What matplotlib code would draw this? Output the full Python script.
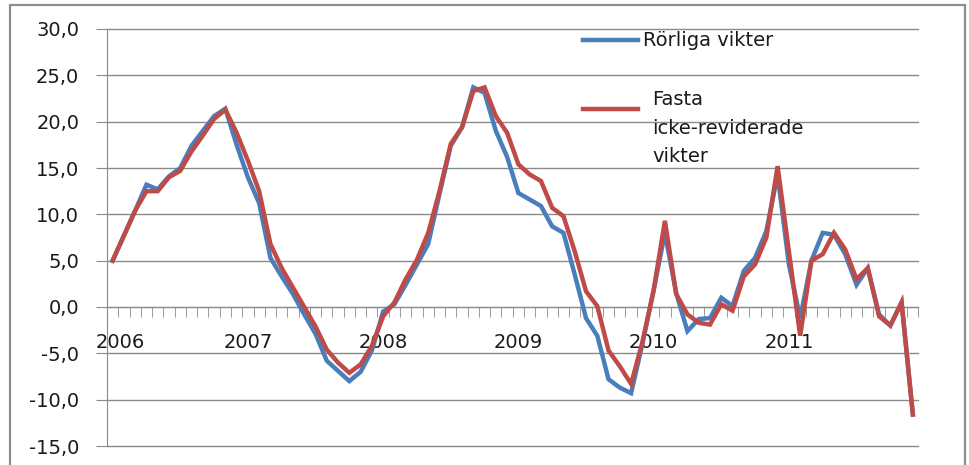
import matplotlib.pyplot as plt
from matplotlib.lines import Line2D
from matplotlib.patches import Rectangle
from matplotlib.ticker import FuncFormatter, MultipleLocator
import matplotlib.transforms as mtransforms

plt.rcParams['font.family'] = ['DejaVu Sans']

# monthly values, Jan 2006 - Dec 2011
years = ['2006', '2007', '2008', '2009', '2010', '2011']
rorliga = [5.0, 7.7, 10.4, 13.2, 12.7, 14.1, 15.0, 17.4, 19.0, 20.6, 21.4, 17.5,
           14.0, 11.2, 5.3, 3.3, 1.4, -0.8, -2.9, -5.8, -6.9, -8.0, -7.0, -4.7,
           -0.5, 0.3, 2.4, 4.6, 6.8, 12.2, 17.4, 19.4, 23.7, 23.1, 19.0, 16.2,
           12.3, 11.6, 10.9, 8.7, 8.0, 3.5, -1.2, -3.1, -7.8, -8.7, -9.3, -4.0,
           1.8, 8.0, 1.5, -2.6, -1.3, -1.2, 1.0, 0.1, 3.9, 5.3, 8.2, 14.3,
           4.6, -1.2, 5.0, 8.0, 7.8, 5.7, 2.4, 4.2, -0.8, -2.0, 0.5, -11.6]
fasta = [5.0, 7.7, 10.4, 12.5, 12.5, 14.0, 14.7, 16.8, 18.5, 20.3, 21.3, 18.8,
         15.8, 12.5, 6.8, 4.2, 2.1, 0.0, -2.1, -4.6, -6.0, -7.1, -6.2, -4.2,
         -1.0, 0.5, 3.0, 5.1, 8.0, 12.5, 17.6, 19.4, 23.3, 23.7, 20.6, 18.8,
         15.4, 14.3, 13.6, 10.7, 9.8, 6.0, 1.7, 0.1, -4.7, -6.4, -8.3, -3.8,
         1.8, 9.3, 1.4, -0.8, -1.7, -1.9, 0.3, -0.4, 3.3, 4.6, 7.5, 15.2,
         6.0, -3.1, 5.0, 5.7, 8.0, 6.2, 3.0, 4.2, -1.0, -2.0, 0.5, -11.6]

W, H = 970, 465
BLUE = '#4A7EBB'
RED = '#BE4B48'
GREY = '#8a8a8a'

fig = plt.figure(figsize=(W / 100, H / 100), dpi=100)
ax = fig.add_axes([107 / W, 1 - 446 / H, (918.5 - 107) / W, (446 - 29) / H])

x = list(range(len(rorliga)))
ax.plot(x, rorliga, color=BLUE, lw=3.2, solid_joinstyle='miter', zorder=3)
ax.plot(x, fasta, color=RED, lw=3.2, solid_joinstyle='miter', zorder=4)

ax.set_xlim(-0.5, len(x) - 0.5)
ax.set_ylim(-15, 30)
ax.yaxis.set_major_locator(MultipleLocator(5))
ax.yaxis.set_major_formatter(FuncFormatter(lambda v, p: f'{v:.1f}'.replace('.', ',')))
ax.grid(axis='y', color=GREY, lw=1.0, zorder=1)
ax.set_axisbelow(True)
for gl in ax.yaxis.get_gridlines():
    gl.set_clip_on(False)

for s in ['top', 'right']:
    ax.spines[s].set_visible(False)
ax.spines['left'].set_color(GREY)
ax.spines['bottom'].set_color(GREY)
ax.spines['bottom'].set_position(('data', 0))

ax.tick_params(axis='y', length=8, color=GREY, labelsize=14, pad=12, labelcolor='#1a1a1a')
ax.set_xticks([i * 12 for i in range(len(years))])
ax.set_xticklabels(years)
ax.set_xticks([i + 0.5 for i in range(len(x))], minor=True)
ax.tick_params(axis='x', which='major', length=0, labelsize=14, pad=19, labelcolor='#1a1a1a')
ax.tick_params(axis='x', which='minor', length=7, color=GREY, direction='out')
first = ax.get_xticklabels()[0]
first.set_transform(first.get_transform() + mtransforms.ScaledTranslation(8 / 100, 0, fig.dpi_scale_trans))

# legend drawn by hand
def fx(px):
    return px / W

def fy(py):
    return 1 - py / H

fig.add_artist(Line2D([fx(583), fx(638)], [fy(40), fy(40)], color=BLUE, lw=3.2))
fig.text(fx(643), fy(41), 'Rörliga vikter', fontsize=14, va='center', ha='left', color='#1a1a1a')
fig.add_artist(Line2D([fx(583), fx(638)], [fy(109), fy(109)], color=RED, lw=3.2))
fig.text(fx(652), fy(128), 'Fasta\nicke-reviderade\nvikter', fontsize=14, va='center', ha='left',
         linespacing=1.65, color='#1a1a1a')

fig.add_artist(Rectangle((fx(10), fy(480)), fx(965) - fx(10), fy(5) - fy(480),
                         fill=False, edgecolor='#8c8c8c', lw=1.6))

fig.savefig('out.png', dpi=100)
